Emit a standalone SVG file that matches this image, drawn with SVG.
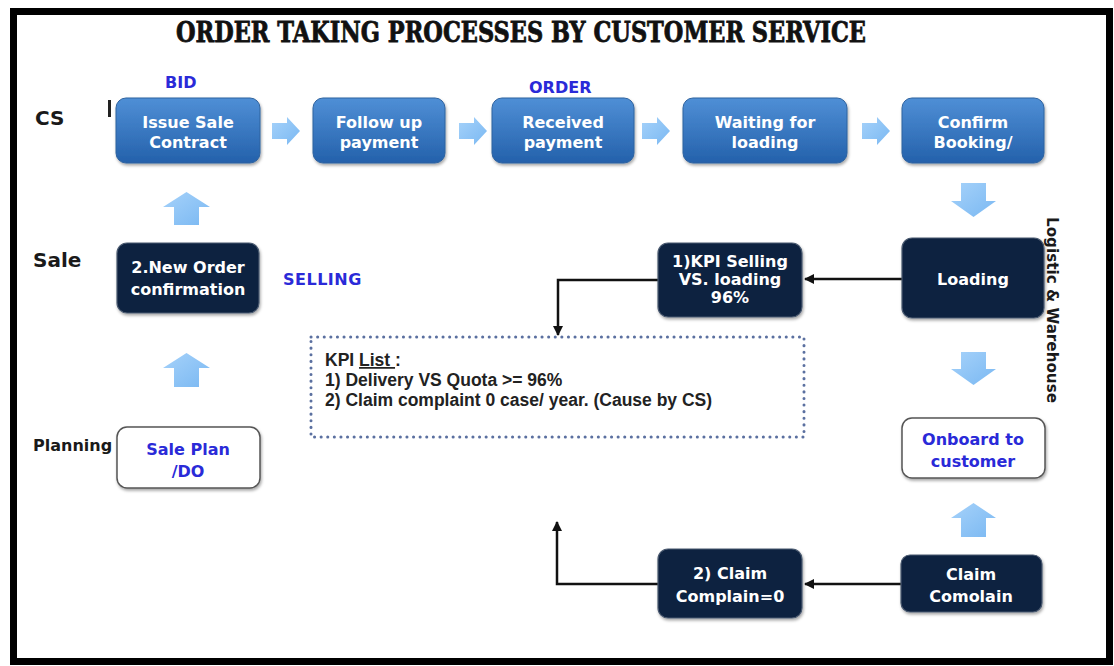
<svg xmlns="http://www.w3.org/2000/svg" width="1114" height="666" viewBox="0 0 1114 666">
<defs>
  <linearGradient id="gBlue" x1="0" y1="0" x2="0" y2="1">
    <stop offset="0" stop-color="#4f8fd6"/>
    <stop offset="1" stop-color="#2461ab"/>
  </linearGradient>
  <linearGradient id="gArrow" x1="0" y1="0" x2="1" y2="1">
    <stop offset="0" stop-color="#a6d2fa"/>
    <stop offset="1" stop-color="#7ab8f2"/>
  </linearGradient>
  <filter id="sh" x="-10%" y="-10%" width="125%" height="130%">
    <feDropShadow dx="1" dy="2" stdDeviation="1.5" flood-color="#000" flood-opacity="0.35"/>
  </filter>
  <marker id="ah" viewBox="0 0 10 10" refX="9" refY="5" markerWidth="4" markerHeight="4" orient="auto">
    <path d="M0,0 L10,5 L0,10 z" fill="#111"/>
  </marker>
</defs>
<style>
  .blue{fill:url(#gBlue);stroke:#2f639f;stroke-width:1;filter:url(#sh)}
  .navy{fill:#0f2240;stroke:#4a5a70;stroke-width:1.2;filter:url(#sh)}
  .white{fill:#fff;stroke:#555;stroke-width:1.5;filter:url(#sh)}
  .bt{font-family:"DejaVu Sans",sans-serif;font-weight:bold;font-size:16px;fill:#fff;text-anchor:middle}
  .bl{font-family:"DejaVu Sans",sans-serif;font-weight:bold;font-size:16px;fill:#2a2ad8;text-anchor:middle}
  .lane{font-family:"DejaVu Sans",sans-serif;font-weight:bold;fill:#1a1a1a}
  .tag{font-family:"DejaVu Sans",sans-serif;font-weight:bold;font-size:16px;fill:#2a2ad8}
  .kpi{font-family:"Liberation Sans",Arial,sans-serif;font-weight:bold;font-size:17.5px;fill:#222}
  .conn{fill:none;stroke:#111;stroke-width:2.5;marker-end:url(#ah)}
  .barrow{fill:url(#gArrow)}
</style>
<rect x="0" y="0" width="1114" height="666" fill="#fff"/>
<rect x="13.5" y="11.5" width="1096" height="650" fill="#fff" stroke="#000" stroke-width="7"/>

<text x="176" y="42" font-family="'DejaVu Serif',serif" font-weight="bold" font-size="27" fill="#111" stroke="#111" stroke-width="0.8" textLength="690" lengthAdjust="spacingAndGlyphs">ORDER TAKING PROCESSES BY CUSTOMER SERVICE</text>

<g id="lanes">
  <text class="lane" x="35" y="125" font-size="20">CS</text>
  <text class="lane" x="33" y="267" font-size="20">Sale</text>
  <text class="lane" x="33" y="451" font-size="16" fill="#333">Planning</text>
  <text class="lane" x="0" y="0" font-size="15" transform="translate(1047,217) rotate(90)" textLength="186" lengthAdjust="spacingAndGlyphs">Logistic &amp; Warehouse</text>
  <rect x="108" y="100" width="3" height="17" fill="#222"/>
</g>

<g id="tags">
  <text class="tag" x="165" y="88">BID</text>
  <text class="tag" x="529" y="93">ORDER</text>
  <text class="tag" x="283" y="285" font-size="15" letter-spacing="0.5">SELLING</text>
</g>

<g id="connectors">
  <path class="barrow" d="M272,123 h15 v-6 l13,14 l-13,14 v-6 h-15 z"/>
  <path class="barrow" d="M459,123 h15 v-6 l13,14 l-13,14 v-6 h-15 z"/>
  <path class="barrow" d="M642,123 h15 v-6 l13,14 l-13,14 v-6 h-15 z"/>
  <path class="barrow" d="M862,123 h15 v-6 l13,14 l-13,14 v-6 h-15 z"/>
  <path class="barrow" d="M186.5,192 l23.5,15 h-11 v18 h-25 v-18 h-11 z"/>
  <path class="barrow" d="M186.5,353 l23.5,15 h-11 v19 h-25 v-19 h-11 z"/>
  <path class="barrow" d="M961,183 h25 v18 h10 l-22.5,16 l-22.5,-16 h10 z"/>
  <path class="barrow" d="M961,352 h25 v17 h10 l-22.5,16 l-22.5,-16 h10 z"/>
  <path class="barrow" d="M973.5,503 l22.5,15 h-10 v19 h-25 v-19 h-10 z"/>
  <path class="conn" d="M902,279 H805"/>
  <path class="conn" d="M658,280 H558 V335"/>
  <path class="conn" d="M901,584 H805"/>
  <path class="conn" d="M658,584 H557 V522"/>
</g>

<g id="issue-sale-contract">
  <rect class="blue" x="116" y="98" width="144" height="65" rx="10"/>
  <text class="bt" x="188" y="128">Issue Sale</text>
  <text class="bt" x="188" y="148">Contract</text>
</g>
<g id="follow-up-payment">
  <rect class="blue" x="313" y="98" width="132" height="65" rx="10"/>
  <text class="bt" x="379" y="128">Follow up</text>
  <text class="bt" x="379" y="148">payment</text>
</g>
<g id="received-payment">
  <rect class="blue" x="492" y="98" width="142" height="65" rx="10"/>
  <text class="bt" x="563" y="128">Received</text>
  <text class="bt" x="563" y="148">payment</text>
</g>
<g id="waiting-for-loading">
  <rect class="blue" x="683" y="98" width="164" height="65" rx="10"/>
  <text class="bt" x="765" y="128">Waiting for</text>
  <text class="bt" x="765" y="148">loading</text>
</g>
<g id="confirm-booking">
  <rect class="blue" x="902" y="98" width="142" height="65" rx="10"/>
  <text class="bt" x="973" y="128">Confirm</text>
  <text class="bt" x="973" y="148">Booking/</text>
</g>

<g id="new-order">
  <rect class="navy" x="117" y="243" width="142" height="70" rx="10"/>
  <text class="bt" x="188" y="273">2.New Order</text>
  <text class="bt" x="188" y="295">confirmation</text>
</g>
<g id="sale-plan">
  <rect class="white" x="117" y="427" width="143" height="61" rx="10"/>
  <text class="bl" x="188" y="455">Sale Plan</text>
  <text class="bl" x="188" y="477">/DO</text>
</g>

<g id="loading">
  <rect class="navy" x="902" y="238" width="142" height="80" rx="10"/>
  <text class="bt" x="973" y="285">Loading</text>
</g>
<g id="kpi-selling">
  <rect class="navy" x="658" y="243" width="144" height="74" rx="10"/>
  <text class="bt" x="730" y="267" font-size="14">1)KPI Selling</text>
  <text class="bt" x="730" y="285" font-size="14">VS. loading</text>
  <text class="bt" x="730" y="303" font-size="14">96%</text>
</g>
<g id="onboard">
  <rect class="white" x="902" y="418" width="143" height="60" rx="10"/>
  <text class="bl" x="973" y="445">Onboard to</text>
  <text class="bl" x="973" y="467">customer</text>
</g>
<g id="claim-complain">
  <rect class="navy" x="901" y="555" width="141" height="57" rx="9"/>
  <text class="bt" x="971" y="580">Claim</text>
  <text class="bt" x="971" y="602">Comolain</text>
</g>
<g id="claim-zero">
  <rect class="navy" x="658" y="549" width="144" height="69" rx="10"/>
  <text class="bt" x="730" y="579">2) Claim</text>
  <text class="bt" x="730" y="602">Complain=0</text>
</g>

<g id="kpi-list">
  <rect x="311" y="337" width="493" height="100" fill="#fff" stroke="#5b70a0" stroke-width="3" stroke-dasharray="0.1 6.5" stroke-linecap="round"/>
  <text class="kpi" x="325" y="366">KPI <tspan text-decoration="underline">List </tspan>:</text>
  <text class="kpi" x="325" y="386">1) Delivery VS Quota &gt;= 96%</text>
  <text class="kpi" x="325" y="406">2) Claim complaint 0 case/ year. (Cause by CS)</text>
</g>
</svg>
